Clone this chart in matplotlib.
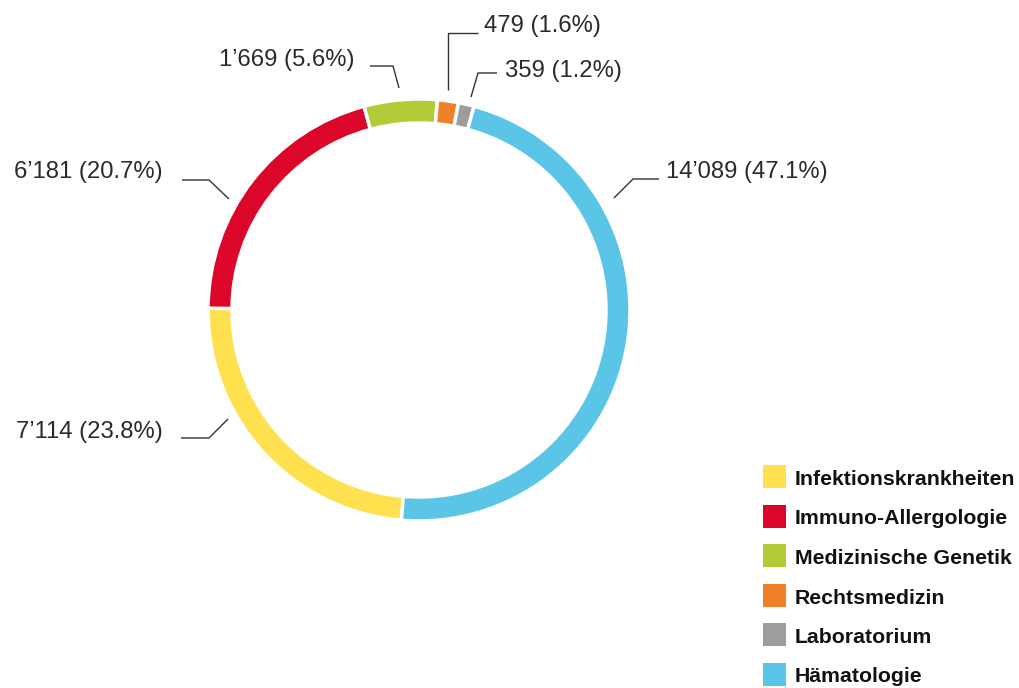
import matplotlib
matplotlib.use("Agg")
import matplotlib.pyplot as plt
from matplotlib.patches import Rectangle

# ---- data (legend order, drawn clockwise from the bottom) ----
categories = ["Infektionskrankheiten", "Immuno-Allergologie", "Medizinische Genetik",
              "Rechtsmedizin", "Laboratorium", "Hämatologie"]
values = [7114, 6181, 1669, 479, 359, 14089]
labels = ["7’114 (23.8%)", "6’181 (20.7%)", "1’669 (5.6%)",
          "479 (1.6%)", "359 (1.2%)", "14’089 (47.1%)"]
colors = ["#FFE14F", "#DC062B", "#B1CC36", "#F08128", "#9D9D9C", "#5BC5E8"]

W, H = 1019, 688
plt.rcParams['font.family'] = ['Liberation Sans', 'DejaVu Sans']

fig = plt.figure(figsize=(W / 100, H / 100), dpi=100)
ax = fig.add_axes([0, 0, 1, 1])


def P(x, y):
    # pixel coords (top-left origin) -> data coords
    return x, H - y


cx, cy = P(419, 310)
ax.pie(values, colors=colors, startangle=-94.8, counterclock=False,
       radius=211, center=(cx, cy), frame=True,
       wedgeprops=dict(width=24, edgecolor='white', linewidth=2.5))
ax.set_xlim(0, W)
ax.set_ylim(0, H)
ax.set_aspect('equal')
ax.axis('off')

# ---- labels with leader lines (layout in pixels) ----
label_layout = [
    # text x, baseline y, ha, leader line points
    (163, 438, 'right', [(181, 438), (209, 438), (228, 419)]),
    (163, 178, 'right', [(182, 180), (209, 180), (229, 199)]),
    (355, 66, 'right', [(370, 66), (393, 66), (399, 88)]),
    (484, 32, 'left', [(478, 33), (448, 33), (448, 90)]),
    (505, 77, 'left', [(497, 73), (478, 73), (471, 97)]),
    (666, 178, 'left', [(659, 179), (633, 179), (614, 198)]),
]
for lab, (tx, ty, ha, pts) in zip(labels, label_layout):
    xs, ys = zip(*[P(px, py) for px, py in pts])
    ax.plot(xs, ys, color='#333333', lw=1.0, solid_capstyle='butt')
    ax.text(*P(tx, ty), lab, ha=ha, va='baseline', fontsize=17.2,
            color='#2a2a2a')

# ---- legend ----
for i, (cat, col) in enumerate(zip(categories, colors)):
    yc = 476.5 + i * 39.5
    x0, y0 = P(763, yc + 11.5)
    ax.add_patch(Rectangle((x0, y0), 23, 23, facecolor=col, edgecolor='none'))
    ax.text(*P(795, yc + 8.5), cat, ha='left', va='baseline', fontsize=15.3,
            fontweight='bold', color='#111111')

fig.savefig("out.png", dpi=100)
